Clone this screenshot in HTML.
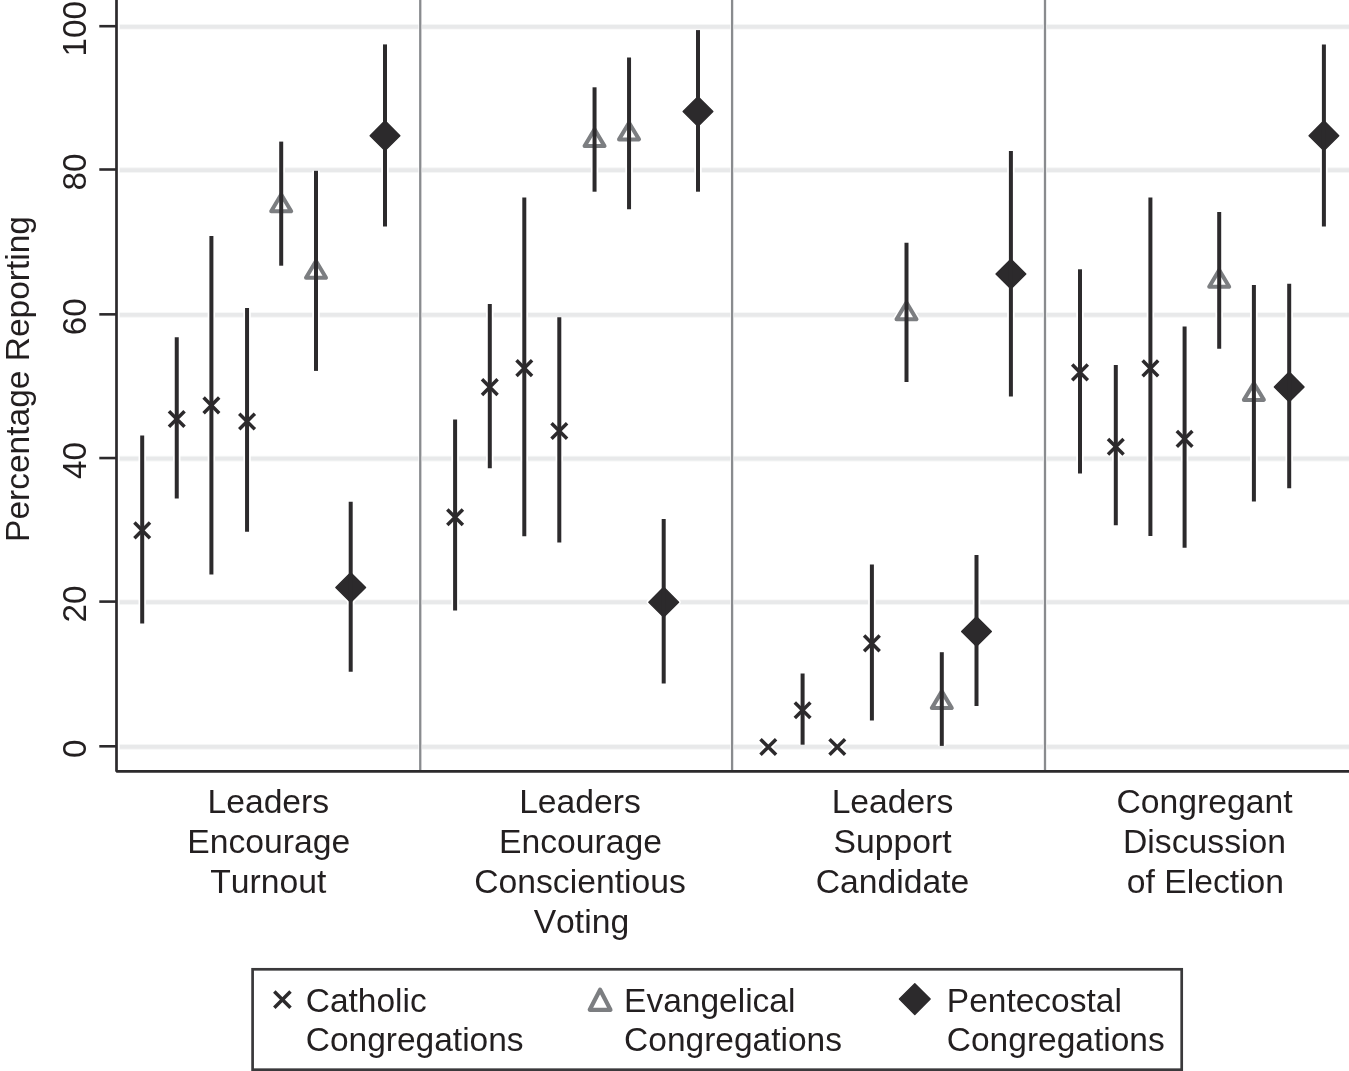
<!DOCTYPE html>
<html><head><meta charset="utf-8"><title>Figure</title>
<style>
html,body{margin:0;padding:0;background:#fff;}
svg{display:block;will-change:transform;}
text{font-kerning:none;font-family:"Liberation Sans",Arial,Helvetica,sans-serif;font-size:33.7px;fill:#231f20;}
</style></head><body>
<svg width="1349" height="1071" viewBox="0 0 1349 1071">
<rect width="1349" height="1071" fill="#fff"/>
<g id="grid">
<line x1="119.4" y1="746.90" x2="1349" y2="746.90" stroke="#f5f6f6" stroke-width="5.6"/>
<line x1="119.8" y1="746.90" x2="1349" y2="746.90" stroke="#e8e9ea" stroke-width="3.8"/>
<line x1="119.4" y1="602.20" x2="1349" y2="602.20" stroke="#f5f6f6" stroke-width="5.6"/>
<line x1="119.8" y1="602.20" x2="1349" y2="602.20" stroke="#e8e9ea" stroke-width="3.8"/>
<line x1="119.4" y1="458.65" x2="1349" y2="458.65" stroke="#f5f6f6" stroke-width="5.6"/>
<line x1="119.8" y1="458.65" x2="1349" y2="458.65" stroke="#e8e9ea" stroke-width="3.8"/>
<line x1="119.4" y1="314.95" x2="1349" y2="314.95" stroke="#f5f6f6" stroke-width="5.6"/>
<line x1="119.8" y1="314.95" x2="1349" y2="314.95" stroke="#e8e9ea" stroke-width="3.8"/>
<line x1="119.4" y1="170.10" x2="1349" y2="170.10" stroke="#f5f6f6" stroke-width="5.6"/>
<line x1="119.8" y1="170.10" x2="1349" y2="170.10" stroke="#e8e9ea" stroke-width="3.8"/>
<line x1="119.4" y1="26.80" x2="1349" y2="26.80" stroke="#f5f6f6" stroke-width="5.6"/>
<line x1="119.8" y1="26.80" x2="1349" y2="26.80" stroke="#e8e9ea" stroke-width="3.8"/>
</g>
<g id="separators">
<line x1="420.25" y1="0" x2="420.25" y2="771" stroke="#fff" stroke-width="3.6"/>
<line x1="420.25" y1="0" x2="420.25" y2="771" stroke="#898b8e" stroke-width="2.3"/>
<line x1="732.1" y1="0" x2="732.1" y2="771" stroke="#fff" stroke-width="3.6"/>
<line x1="732.1" y1="0" x2="732.1" y2="771" stroke="#898b8e" stroke-width="2.3"/>
<line x1="1045.0" y1="0" x2="1045.0" y2="771" stroke="#fff" stroke-width="3.6"/>
<line x1="1045.0" y1="0" x2="1045.0" y2="771" stroke="#898b8e" stroke-width="2.3"/>
</g>
<g id="axes">
<path d="M116.5 0V771.3H1349" stroke="#2c2a2c" stroke-width="2.7" fill="none" stroke-linejoin="bevel"/>
<line x1="99.3" y1="746.30" x2="116.5" y2="746.30" stroke="#2c2a2c" stroke-width="2.6"/>
<text transform="translate(85.6,748.80) rotate(-90)" text-anchor="middle" style="font-size:33.2px">0</text>
<line x1="99.3" y1="601.60" x2="116.5" y2="601.60" stroke="#2c2a2c" stroke-width="2.6"/>
<text transform="translate(85.6,604.10) rotate(-90)" text-anchor="middle" style="font-size:33.2px">20</text>
<line x1="99.3" y1="458.05" x2="116.5" y2="458.05" stroke="#2c2a2c" stroke-width="2.6"/>
<text transform="translate(85.6,460.55) rotate(-90)" text-anchor="middle" style="font-size:33.2px">40</text>
<line x1="99.3" y1="314.35" x2="116.5" y2="314.35" stroke="#2c2a2c" stroke-width="2.6"/>
<text transform="translate(85.6,316.85) rotate(-90)" text-anchor="middle" style="font-size:33.2px">60</text>
<line x1="99.3" y1="169.50" x2="116.5" y2="169.50" stroke="#2c2a2c" stroke-width="2.6"/>
<text transform="translate(85.6,172.00) rotate(-90)" text-anchor="middle" style="font-size:33.2px">80</text>
<line x1="99.3" y1="26.20" x2="116.5" y2="26.20" stroke="#2c2a2c" stroke-width="2.6"/>
<text transform="translate(85.6,28.70) rotate(-90)" text-anchor="middle" style="font-size:33.2px">100</text>
<text transform="translate(28.7,379) rotate(-90)" text-anchor="middle" style="font-size:33.5px">Percentage Reporting</text>
</g>
<g id="data">
<line x1="142.20" y1="435.5" x2="142.20" y2="623.5" stroke="#fff" stroke-width="7.4"/>
<line x1="176.75" y1="337.3" x2="176.75" y2="498.6" stroke="#fff" stroke-width="7.4"/>
<line x1="211.40" y1="236.0" x2="211.40" y2="574.4" stroke="#fff" stroke-width="7.4"/>
<line x1="247.05" y1="308.1" x2="247.05" y2="531.7" stroke="#fff" stroke-width="7.4"/>
<line x1="281.20" y1="141.6" x2="281.20" y2="265.7" stroke="#fff" stroke-width="7.4"/>
<line x1="316.00" y1="170.8" x2="316.00" y2="370.9" stroke="#fff" stroke-width="7.4"/>
<line x1="350.70" y1="501.8" x2="350.70" y2="671.7" stroke="#fff" stroke-width="7.4"/>
<line x1="385.00" y1="44.4" x2="385.00" y2="226.5" stroke="#fff" stroke-width="7.4"/>
<line x1="455.10" y1="419.6" x2="455.10" y2="610.5" stroke="#fff" stroke-width="7.4"/>
<line x1="489.80" y1="304.0" x2="489.80" y2="468.2" stroke="#fff" stroke-width="7.4"/>
<line x1="524.30" y1="197.4" x2="524.30" y2="536.2" stroke="#fff" stroke-width="7.4"/>
<line x1="559.30" y1="317.3" x2="559.30" y2="542.6" stroke="#fff" stroke-width="7.4"/>
<line x1="594.55" y1="87.3" x2="594.55" y2="191.7" stroke="#fff" stroke-width="7.4"/>
<line x1="629.05" y1="57.6" x2="629.05" y2="209.2" stroke="#fff" stroke-width="7.4"/>
<line x1="663.70" y1="519.1" x2="663.70" y2="683.5" stroke="#fff" stroke-width="7.4"/>
<line x1="698.00" y1="30.1" x2="698.00" y2="191.7" stroke="#fff" stroke-width="7.4"/>
<line x1="802.60" y1="673.5" x2="802.60" y2="744.7" stroke="#fff" stroke-width="7.4"/>
<line x1="871.90" y1="564.4" x2="871.90" y2="720.5" stroke="#fff" stroke-width="7.4"/>
<line x1="906.50" y1="242.7" x2="906.50" y2="381.9" stroke="#fff" stroke-width="7.4"/>
<line x1="941.80" y1="652.2" x2="941.80" y2="745.9" stroke="#fff" stroke-width="7.4"/>
<line x1="976.50" y1="554.9" x2="976.50" y2="706.0" stroke="#fff" stroke-width="7.4"/>
<line x1="1010.90" y1="150.9" x2="1010.90" y2="396.6" stroke="#fff" stroke-width="7.4"/>
<line x1="1080.00" y1="269.3" x2="1080.00" y2="473.5" stroke="#fff" stroke-width="7.4"/>
<line x1="1115.80" y1="364.9" x2="1115.80" y2="525.2" stroke="#fff" stroke-width="7.4"/>
<line x1="1150.40" y1="197.4" x2="1150.40" y2="535.9" stroke="#fff" stroke-width="7.4"/>
<line x1="1184.60" y1="326.4" x2="1184.60" y2="547.8" stroke="#fff" stroke-width="7.4"/>
<line x1="1219.20" y1="211.9" x2="1219.20" y2="348.7" stroke="#fff" stroke-width="7.4"/>
<line x1="1253.90" y1="284.9" x2="1253.90" y2="501.5" stroke="#fff" stroke-width="7.4"/>
<line x1="1289.20" y1="283.7" x2="1289.20" y2="488.2" stroke="#fff" stroke-width="7.4"/>
<line x1="1323.90" y1="44.4" x2="1323.90" y2="226.4" stroke="#fff" stroke-width="7.4"/>
<path d="M134.40 522.60L150.00 538.20M134.40 538.20L150.00 522.60" stroke="#fff" stroke-width="6.7" fill="none"/><path d="M134.40 522.60L150.00 538.20M134.40 538.20L150.00 522.60" stroke="#2c2a2c" stroke-width="3.5" fill="none"/>
<path d="M168.95 411.20L184.55 426.80M168.95 426.80L184.55 411.20" stroke="#fff" stroke-width="6.7" fill="none"/><path d="M168.95 411.20L184.55 426.80M168.95 426.80L184.55 411.20" stroke="#2c2a2c" stroke-width="3.5" fill="none"/>
<path d="M203.60 397.60L219.20 413.20M203.60 413.20L219.20 397.60" stroke="#fff" stroke-width="6.7" fill="none"/><path d="M203.60 397.60L219.20 413.20M203.60 413.20L219.20 397.60" stroke="#2c2a2c" stroke-width="3.5" fill="none"/>
<path d="M239.25 413.70L254.85 429.30M239.25 429.30L254.85 413.70" stroke="#fff" stroke-width="6.7" fill="none"/><path d="M239.25 413.70L254.85 429.30M239.25 429.30L254.85 413.70" stroke="#2c2a2c" stroke-width="3.5" fill="none"/>
<path d="M281.20 194.50L291.20 211.20L271.20 211.20Z" stroke="#fff" stroke-width="7.0" fill="none" stroke-linejoin="round"/><path d="M281.20 194.50L291.20 211.20L271.20 211.20Z" stroke="#7c7e81" stroke-width="4.0" fill="none" stroke-linejoin="round"/>
<path d="M316.00 261.00L326.00 277.70L306.00 277.70Z" stroke="#fff" stroke-width="7.0" fill="none" stroke-linejoin="round"/><path d="M316.00 261.00L326.00 277.70L306.00 277.70Z" stroke="#7c7e81" stroke-width="4.0" fill="none" stroke-linejoin="round"/>
<path d="M350.70 572.65L365.55 587.50L350.70 602.35L335.85 587.50Z" stroke="#fff" stroke-width="4.6" fill="#fff" stroke-linejoin="round"/><path d="M350.70 572.65L365.55 587.50L350.70 602.35L335.85 587.50Z" fill="#2c2a2c" stroke="#2c2a2c" stroke-width="1.4" stroke-linejoin="round"/>
<path d="M385.00 120.85L399.85 135.70L385.00 150.55L370.15 135.70Z" stroke="#fff" stroke-width="4.6" fill="#fff" stroke-linejoin="round"/><path d="M385.00 120.85L399.85 135.70L385.00 150.55L370.15 135.70Z" fill="#2c2a2c" stroke="#2c2a2c" stroke-width="1.4" stroke-linejoin="round"/>
<path d="M447.30 509.40L462.90 525.00M447.30 525.00L462.90 509.40" stroke="#fff" stroke-width="6.7" fill="none"/><path d="M447.30 509.40L462.90 525.00M447.30 525.00L462.90 509.40" stroke="#2c2a2c" stroke-width="3.5" fill="none"/>
<path d="M482.00 379.30L497.60 394.90M482.00 394.90L497.60 379.30" stroke="#fff" stroke-width="6.7" fill="none"/><path d="M482.00 379.30L497.60 394.90M482.00 394.90L497.60 379.30" stroke="#2c2a2c" stroke-width="3.5" fill="none"/>
<path d="M516.50 360.30L532.10 375.90M516.50 375.90L532.10 360.30" stroke="#fff" stroke-width="6.7" fill="none"/><path d="M516.50 360.30L532.10 375.90M516.50 375.90L532.10 360.30" stroke="#2c2a2c" stroke-width="3.5" fill="none"/>
<path d="M551.50 423.20L567.10 438.80M551.50 438.80L567.10 423.20" stroke="#fff" stroke-width="6.7" fill="none"/><path d="M551.50 423.20L567.10 438.80M551.50 438.80L567.10 423.20" stroke="#2c2a2c" stroke-width="3.5" fill="none"/>
<path d="M594.55 129.40L604.55 146.10L584.55 146.10Z" stroke="#fff" stroke-width="7.0" fill="none" stroke-linejoin="round"/><path d="M594.55 129.40L604.55 146.10L584.55 146.10Z" stroke="#7c7e81" stroke-width="4.0" fill="none" stroke-linejoin="round"/>
<path d="M629.05 122.70L639.05 139.40L619.05 139.40Z" stroke="#fff" stroke-width="7.0" fill="none" stroke-linejoin="round"/><path d="M629.05 122.70L639.05 139.40L619.05 139.40Z" stroke="#7c7e81" stroke-width="4.0" fill="none" stroke-linejoin="round"/>
<path d="M663.70 587.35L678.55 602.20L663.70 617.05L648.85 602.20Z" stroke="#fff" stroke-width="4.6" fill="#fff" stroke-linejoin="round"/><path d="M663.70 587.35L678.55 602.20L663.70 617.05L648.85 602.20Z" fill="#2c2a2c" stroke="#2c2a2c" stroke-width="1.4" stroke-linejoin="round"/>
<path d="M698.00 96.65L712.85 111.50L698.00 126.35L683.15 111.50Z" stroke="#fff" stroke-width="4.6" fill="#fff" stroke-linejoin="round"/><path d="M698.00 96.65L712.85 111.50L698.00 126.35L683.15 111.50Z" fill="#2c2a2c" stroke="#2c2a2c" stroke-width="1.4" stroke-linejoin="round"/>
<path d="M760.50 739.20L776.10 754.80M760.50 754.80L776.10 739.20" stroke="#fff" stroke-width="6.7" fill="none"/><path d="M760.50 739.20L776.10 754.80M760.50 754.80L776.10 739.20" stroke="#2c2a2c" stroke-width="3.5" fill="none"/>
<path d="M794.80 702.50L810.40 718.10M794.80 718.10L810.40 702.50" stroke="#fff" stroke-width="6.7" fill="none"/><path d="M794.80 702.50L810.40 718.10M794.80 718.10L810.40 702.50" stroke="#2c2a2c" stroke-width="3.5" fill="none"/>
<path d="M829.50 739.20L845.10 754.80M829.50 754.80L845.10 739.20" stroke="#fff" stroke-width="6.7" fill="none"/><path d="M829.50 739.20L845.10 754.80M829.50 754.80L845.10 739.20" stroke="#2c2a2c" stroke-width="3.5" fill="none"/>
<path d="M864.10 635.60L879.70 651.20M864.10 651.20L879.70 635.60" stroke="#fff" stroke-width="6.7" fill="none"/><path d="M864.10 635.60L879.70 651.20M864.10 651.20L879.70 635.60" stroke="#2c2a2c" stroke-width="3.5" fill="none"/>
<path d="M906.50 302.60L916.50 319.30L896.50 319.30Z" stroke="#fff" stroke-width="7.0" fill="none" stroke-linejoin="round"/><path d="M906.50 302.60L916.50 319.30L896.50 319.30Z" stroke="#7c7e81" stroke-width="4.0" fill="none" stroke-linejoin="round"/>
<path d="M941.80 691.40L951.80 708.10L931.80 708.10Z" stroke="#fff" stroke-width="7.0" fill="none" stroke-linejoin="round"/><path d="M941.80 691.40L951.80 708.10L931.80 708.10Z" stroke="#7c7e81" stroke-width="4.0" fill="none" stroke-linejoin="round"/>
<path d="M976.50 616.65L991.35 631.50L976.50 646.35L961.65 631.50Z" stroke="#fff" stroke-width="4.6" fill="#fff" stroke-linejoin="round"/><path d="M976.50 616.65L991.35 631.50L976.50 646.35L961.65 631.50Z" fill="#2c2a2c" stroke="#2c2a2c" stroke-width="1.4" stroke-linejoin="round"/>
<path d="M1010.90 259.15L1025.75 274.00L1010.90 288.85L996.05 274.00Z" stroke="#fff" stroke-width="4.6" fill="#fff" stroke-linejoin="round"/><path d="M1010.90 259.15L1025.75 274.00L1010.90 288.85L996.05 274.00Z" fill="#2c2a2c" stroke="#2c2a2c" stroke-width="1.4" stroke-linejoin="round"/>
<path d="M1072.20 364.60L1087.80 380.20M1072.20 380.20L1087.80 364.60" stroke="#fff" stroke-width="6.7" fill="none"/><path d="M1072.20 364.60L1087.80 380.20M1072.20 380.20L1087.80 364.60" stroke="#2c2a2c" stroke-width="3.5" fill="none"/>
<path d="M1108.00 438.90L1123.60 454.50M1108.00 454.50L1123.60 438.90" stroke="#fff" stroke-width="6.7" fill="none"/><path d="M1108.00 438.90L1123.60 454.50M1108.00 454.50L1123.60 438.90" stroke="#2c2a2c" stroke-width="3.5" fill="none"/>
<path d="M1142.60 360.60L1158.20 376.20M1142.60 376.20L1158.20 360.60" stroke="#fff" stroke-width="6.7" fill="none"/><path d="M1142.60 360.60L1158.20 376.20M1142.60 376.20L1158.20 360.60" stroke="#2c2a2c" stroke-width="3.5" fill="none"/>
<path d="M1176.80 431.10L1192.40 446.70M1176.80 446.70L1192.40 431.10" stroke="#fff" stroke-width="6.7" fill="none"/><path d="M1176.80 431.10L1192.40 446.70M1176.80 446.70L1192.40 431.10" stroke="#2c2a2c" stroke-width="3.5" fill="none"/>
<path d="M1219.20 270.10L1229.20 286.80L1209.20 286.80Z" stroke="#fff" stroke-width="7.0" fill="none" stroke-linejoin="round"/><path d="M1219.20 270.10L1229.20 286.80L1209.20 286.80Z" stroke="#7c7e81" stroke-width="4.0" fill="none" stroke-linejoin="round"/>
<path d="M1253.90 383.20L1263.90 399.90L1243.90 399.90Z" stroke="#fff" stroke-width="7.0" fill="none" stroke-linejoin="round"/><path d="M1253.90 383.20L1263.90 399.90L1243.90 399.90Z" stroke="#7c7e81" stroke-width="4.0" fill="none" stroke-linejoin="round"/>
<path d="M1289.20 372.05L1304.05 386.90L1289.20 401.75L1274.35 386.90Z" stroke="#fff" stroke-width="4.6" fill="#fff" stroke-linejoin="round"/><path d="M1289.20 372.05L1304.05 386.90L1289.20 401.75L1274.35 386.90Z" fill="#2c2a2c" stroke="#2c2a2c" stroke-width="1.4" stroke-linejoin="round"/>
<path d="M1323.90 120.85L1338.75 135.70L1323.90 150.55L1309.05 135.70Z" stroke="#fff" stroke-width="4.6" fill="#fff" stroke-linejoin="round"/><path d="M1323.90 120.85L1338.75 135.70L1323.90 150.55L1309.05 135.70Z" fill="#2c2a2c" stroke="#2c2a2c" stroke-width="1.4" stroke-linejoin="round"/>
<line x1="142.20" y1="435.5" x2="142.20" y2="623.5" stroke="#2c2a2c" stroke-width="4"/>
<line x1="176.75" y1="337.3" x2="176.75" y2="498.6" stroke="#2c2a2c" stroke-width="4"/>
<line x1="211.40" y1="236.0" x2="211.40" y2="574.4" stroke="#2c2a2c" stroke-width="4"/>
<line x1="247.05" y1="308.1" x2="247.05" y2="531.7" stroke="#2c2a2c" stroke-width="4"/>
<line x1="281.20" y1="141.6" x2="281.20" y2="265.7" stroke="#2c2a2c" stroke-width="4"/>
<line x1="316.00" y1="170.8" x2="316.00" y2="370.9" stroke="#2c2a2c" stroke-width="4"/>
<line x1="350.70" y1="501.8" x2="350.70" y2="671.7" stroke="#2c2a2c" stroke-width="4"/>
<line x1="385.00" y1="44.4" x2="385.00" y2="226.5" stroke="#2c2a2c" stroke-width="4"/>
<line x1="455.10" y1="419.6" x2="455.10" y2="610.5" stroke="#2c2a2c" stroke-width="4"/>
<line x1="489.80" y1="304.0" x2="489.80" y2="468.2" stroke="#2c2a2c" stroke-width="4"/>
<line x1="524.30" y1="197.4" x2="524.30" y2="536.2" stroke="#2c2a2c" stroke-width="4"/>
<line x1="559.30" y1="317.3" x2="559.30" y2="542.6" stroke="#2c2a2c" stroke-width="4"/>
<line x1="594.55" y1="87.3" x2="594.55" y2="191.7" stroke="#2c2a2c" stroke-width="4"/>
<line x1="629.05" y1="57.6" x2="629.05" y2="209.2" stroke="#2c2a2c" stroke-width="4"/>
<line x1="663.70" y1="519.1" x2="663.70" y2="683.5" stroke="#2c2a2c" stroke-width="4"/>
<line x1="698.00" y1="30.1" x2="698.00" y2="191.7" stroke="#2c2a2c" stroke-width="4"/>
<line x1="802.60" y1="673.5" x2="802.60" y2="744.7" stroke="#2c2a2c" stroke-width="4"/>
<line x1="871.90" y1="564.4" x2="871.90" y2="720.5" stroke="#2c2a2c" stroke-width="4"/>
<line x1="906.50" y1="242.7" x2="906.50" y2="381.9" stroke="#2c2a2c" stroke-width="4"/>
<line x1="941.80" y1="652.2" x2="941.80" y2="745.9" stroke="#2c2a2c" stroke-width="4"/>
<line x1="976.50" y1="554.9" x2="976.50" y2="706.0" stroke="#2c2a2c" stroke-width="4"/>
<line x1="1010.90" y1="150.9" x2="1010.90" y2="396.6" stroke="#2c2a2c" stroke-width="4"/>
<line x1="1080.00" y1="269.3" x2="1080.00" y2="473.5" stroke="#2c2a2c" stroke-width="4"/>
<line x1="1115.80" y1="364.9" x2="1115.80" y2="525.2" stroke="#2c2a2c" stroke-width="4"/>
<line x1="1150.40" y1="197.4" x2="1150.40" y2="535.9" stroke="#2c2a2c" stroke-width="4"/>
<line x1="1184.60" y1="326.4" x2="1184.60" y2="547.8" stroke="#2c2a2c" stroke-width="4"/>
<line x1="1219.20" y1="211.9" x2="1219.20" y2="348.7" stroke="#2c2a2c" stroke-width="4"/>
<line x1="1253.90" y1="284.9" x2="1253.90" y2="501.5" stroke="#2c2a2c" stroke-width="4"/>
<line x1="1289.20" y1="283.7" x2="1289.20" y2="488.2" stroke="#2c2a2c" stroke-width="4"/>
<line x1="1323.90" y1="44.4" x2="1323.90" y2="226.4" stroke="#2c2a2c" stroke-width="4"/>
</g>
<g id="xlabels">
<text x="268.3" y="812.5" text-anchor="middle">Leaders</text>
<text x="268.8" y="852.5" text-anchor="middle">Encourage</text>
<text x="268.3" y="892.5" text-anchor="middle">Turnout</text>
<text x="580" y="812.5" text-anchor="middle">Leaders</text>
<text x="580.5" y="852.5" text-anchor="middle">Encourage</text>
<text x="580" y="892.5" text-anchor="middle">Conscientious</text>
<text x="581.4" y="932.5" text-anchor="middle">Voting</text>
<text x="892.5" y="812.5" text-anchor="middle">Leaders</text>
<text x="892.5" y="852.5" text-anchor="middle">Support</text>
<text x="892.5" y="892.5" text-anchor="middle">Candidate</text>
<text x="1204.5" y="812.5" text-anchor="middle">Congregant</text>
<text x="1204.5" y="852.5" text-anchor="middle">Discussion</text>
<text x="1205.4" y="892.5" text-anchor="middle">of Election</text>
</g>
<g id="legend">
<rect x="252.6" y="969.3" width="929.1" height="100.4" fill="#fff" stroke="#3a393b" stroke-width="2.7"/>
<path d="M274.30 991.60L290.50 1007.80M274.30 1007.80L290.50 991.60" stroke="#2c2a2c" stroke-width="3.5" fill="none"/>
<path d="M600.10 989.70L610.45 1009.80L589.75 1009.80Z" stroke="#7c7e81" stroke-width="4.2" fill="none" stroke-linejoin="round"/>
<path d="M914.80 983.75L930.15 999.10L914.80 1014.45L899.45 999.10Z" fill="#2c2a2c" stroke="#2c2a2c" stroke-width="1.4" stroke-linejoin="round"/>
<text x="305.7" y="1011.5" style="font-size:33.5px">Catholic</text>
<text x="305.7" y="1051.3" style="font-size:33.5px">Congregations</text>
<text x="624.1" y="1011.5" style="font-size:33.5px">Evangelical</text>
<text x="624.1" y="1051.3" style="font-size:33.5px">Congregations</text>
<text x="946.8" y="1011.5" style="font-size:33.5px">Pentecostal</text>
<text x="946.8" y="1051.3" style="font-size:33.5px">Congregations</text>
</g>
</svg>
</body></html>
